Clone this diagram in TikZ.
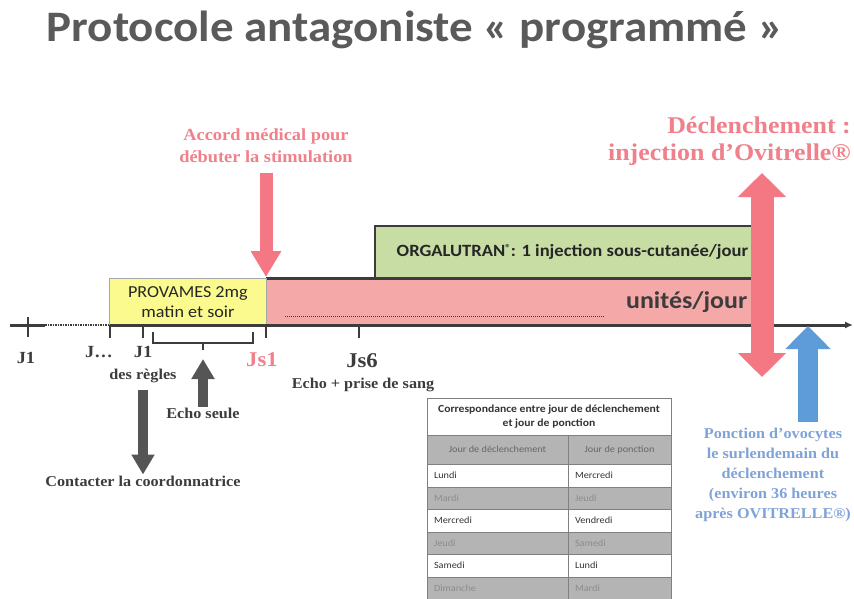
\documentclass[tikz,border=0pt]{standalone}
\usepackage{fontspec}
\setmainfont{Liberation Serif}[FakeStretch=1.08]
\newfontfamily\calibri{Carlito}[FakeStretch=1.08]
\usepackage{tikz}
\usetikzlibrary{arrows.meta,positioning,calc}

\definecolor{titre}{HTML}{5A5A5A}
\definecolor{trait}{HTML}{3C3C3C}
\definecolor{rosetxt}{HTML}{F0808A}
\definecolor{rosefl}{HTML}{F47884}
\definecolor{roseband}{HTML}{F4A8A8}
\definecolor{jaune}{HTML}{FAFA8E}
\definecolor{vert}{HTML}{C7DDA3}
\definecolor{bleufl}{HTML}{5E9CD9}
\definecolor{bleutxt}{HTML}{7FA2D8}
\definecolor{grisfl}{HTML}{555555}
\definecolor{cellgris}{HTML}{B4B4B4}

\begin{document}
\begin{tikzpicture}[x=1pt,y=-1pt,
    jour/.style={font=\bfseries\fontsize{17}{19}\selectfont, text=trait, inner sep=1pt},
    grandjour/.style={font=\bfseries\fontsize{21}{23}\selectfont, text=trait, inner sep=1pt},
    legende/.style={font=\bfseries\fontsize{15}{17}\selectfont, text=trait, inner sep=1pt},
    axe/.style={draw=trait, line width=3pt},
    tick/.style={draw=trait, line width=2pt},
    flechegrise/.style={draw=grisfl, line width=10pt, -{Triangle[length=20pt,width=22pt]}},
    flecherose/.style={draw=rosefl, line width=13pt, -{Triangle[length=26pt,width=29pt]}},
    cel/.style={draw=gray, line width=0.8pt, outer sep=0pt, inner xsep=7pt, inner ysep=0pt,
                anchor=north west, align=left, font=\calibri\fontsize{9.5}{11}\selectfont, text=black!80},
    celgris/.style={fill=cellgris, text=black!45},
    colA/.style={cel, text width=127pt, minimum width=141pt},
    colB/.style={cel, text width=89pt, minimum width=103pt}]
    \useasboundingbox (0,0) rectangle (854,598);

    \node[font=\calibri\bfseries\fontsize{43.5}{48}\selectfont, text=titre, anchor=base, inner sep=0pt] (title) at (415,41) {Protocole antagoniste « programmé »};

    % bandes de traitement
    \node[anchor=north west, fill=roseband, minimum width=489pt, minimum height=47pt, inner sep=0pt] (stim) at (266,278) {};
    \node[font=\calibri\bfseries\fontsize{24}{26}\selectfont, text=trait, inner sep=0pt, left=8pt of stim.east] (unites) {unités/jour};
    \draw[trait, line width=1pt, densely dotted] (285,316) -- (605,316);
    \node[anchor=north west, fill=vert, minimum width=380pt, minimum height=52pt, inner sep=0pt] (orga) at (375,226) {};
    \draw[trait, line width=2.5pt] (orga.south west) |- (orga.north east);
    \draw[trait, line width=3pt] (stim.north west) -- (stim.north east);
    \node[font=\calibri\bfseries\fontsize{17.2}{19}\selectfont, text=black!85, inner sep=0pt, left=7pt of orga.east] (orgatxt)
        {ORGALUTRAN\raisebox{5pt}{\fontsize{10}{10}\selectfont ®}: 1 injection sous-cutanée/jour};
    \node[anchor=north west, fill=jaune, draw=gray!70, line width=0.8pt, minimum width=157pt, minimum height=47pt, align=center,
          font=\calibri\fontsize{16.8}{20}\selectfont, text=black!85] (provames) at (109,278) {PROVAMES 2mg\\matin et soir};

    % axe du temps
    \coordinate (axstart) at (10,325);
    \coordinate (axdots) at (45,325);
    \coordinate (jdots) at (110,325);
    \coordinate (axend) at (853,325);
    \draw[axe] (axstart) -- (axdots);
    \draw[trait, line width=1.5pt, densely dotted] (axdots) -- (jdots);
    \draw[axe, -{Latex[length=8pt,width=7pt]}] (jdots) -- (axend);
    \draw[tick] (28,317) -- (28,337) (110,325) -- (110,338) (143,325) -- (143,338)
                (266,325) -- (266,338) (359,325) -- (359,338);

    \node[jour] (j1) at (26,358) {J1};
    \node[jour] (jx) at (99,352) {J…};
    \node[jour] (j1r) at (143,352) {J1};
    \node[legende] (regles) at (143,376) {des règles};
    \node[grandjour, text=rosetxt] (js1) at (262,360) {Js1};
    \node[grandjour] (js6) at (362,361) {Js6};
    \node[legende] (prise) at (363,385) {Echo + prise de sang};
    \node[legende] (echo) at (203,413) {Echo seule};
    \node[legende] (contact) at (143,481) {Contacter la coordonnatrice};

    % accolade
    \draw[trait, line width=2pt] (153,332) |- (253,343) -- (253,332);
    \draw[trait, line width=2pt] (203,343) -- (203,350);
    \coordinate (echotip) at (203,359);
    \path (echo) edge[flechegrise] (echotip)
          (regles) edge[flechegrise, shorten <=6pt] (contact);

    % accord et declenchement
    \node[font=\bfseries\fontsize{17}{22}\selectfont, text=rosetxt, align=center] (accord) at (266,146) {Accord médical pour\\débuter la stimulation};
    \coordinate (js1top) at (266,277);
    \path (accord) edge[flecherose, shorten <=6pt] (js1top);

    \node[font=\bfseries\fontsize{24}{27}\selectfont, text=rosetxt, align=right, anchor=east, inner sep=0pt] (declench) at (851,141) {Déclenchement :\\injection d’Ovitrelle®};
    \coordinate (trigtop) at (762,173);
    \coordinate (trigbot) at (762,377);
    \draw[draw=rosefl, line width=23pt, {Triangle[length=24pt,width=47pt]}-{Triangle[length=24pt,width=47pt]}] (trigtop) -- (trigbot);

    % ponction
    \node[font=\bfseries\fontsize{15}{20}\selectfont, text=bleutxt, align=center] (ponction) at (773,475) {Ponction d’ovocytes\\le surlendemain du\\déclenchement\\(environ 36 heures\\après OVITRELLE®)};
    \coordinate (ponctaxe) at (808,326);
    \path (ponction.north -| ponctaxe) edge[draw=bleufl, line width=20pt, -{Triangle[length=23pt,width=44pt]}, shorten <=3pt] (ponctaxe);

    % tableau
    \node[cel, minimum width=244pt, minimum height=37pt, align=center, font=\calibri\bfseries\fontsize{10.8}{13.5}\selectfont] (tabtitre) at (427,398) {Correspondance entre jour de déclenchement\\et jour de ponction};
    \node[cel, celgris, minimum width=141pt, minimum height=29pt, align=center, text=black!60] (hA) at (427,435) {Jour de déclenchement};
    \node[cel, celgris, minimum width=103pt, minimum height=29pt, align=center, text=black!60, right=0pt of hA] (hB) {Jour de ponction};
    \node[colA, minimum height=23pt, below=0pt of hA] (l1) {Lundi};
    \node[colB, minimum height=23pt, right=0pt of l1] (p1) {Mercredi};
    \node[colA, celgris, minimum height=22pt, below=0pt of l1] (l2) {Mardi};
    \node[colB, celgris, minimum height=22pt, right=0pt of l2] (p2) {Jeudi};
    \node[colA, minimum height=23pt, below=0pt of l2] (l3) {Mercredi};
    \node[colB, minimum height=23pt, right=0pt of l3] (p3) {Vendredi};
    \node[colA, celgris, minimum height=22pt, below=0pt of l3] (l4) {Jeudi};
    \node[colB, celgris, minimum height=22pt, right=0pt of l4] (p4) {Samedi};
    \node[colA, minimum height=23pt, below=0pt of l4] (l5) {Samedi};
    \node[colB, minimum height=23pt, right=0pt of l5] (p5) {Lundi};
    \node[colA, celgris, minimum height=23pt, below=0pt of l5] (l6) {Dimanche};
    \node[colB, celgris, minimum height=23pt, right=0pt of l6] (p6) {Mardi};
\end{tikzpicture}
\end{document}
